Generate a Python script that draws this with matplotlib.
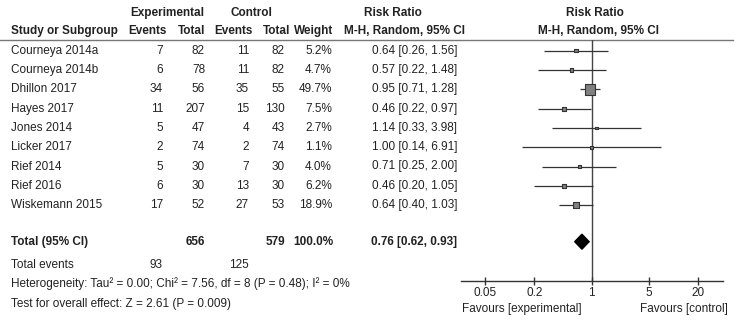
import numpy as np
import matplotlib
matplotlib.use("Agg")
import matplotlib.pyplot as plt
from matplotlib.patches import Polygon

plt.rcParams['font.family'] = ['Liberation Sans', 'DejaVu Sans']

# ---------------- data ----------------
studies = ["Courneya 2014a", "Courneya 2014b", "Dhillon 2017", "Hayes 2017", "Jones 2014",
           "Licker 2017", "Rief 2014", "Rief 2016", "Wiskemann 2015"]
exp_events = [7, 6, 34, 11, 5, 2, 5, 6, 17]
exp_total = [82, 78, 56, 207, 47, 74, 30, 30, 52]
ctrl_events = [11, 11, 35, 15, 4, 2, 7, 13, 27]
ctrl_total = [82, 82, 55, 130, 43, 74, 30, 30, 53]
weights = [5.2, 4.7, 49.7, 7.5, 2.7, 1.1, 4.0, 6.2, 18.9]
rr = [0.64, 0.57, 0.95, 0.46, 1.14, 1.00, 0.71, 0.46, 0.64]
ci_lo = [0.26, 0.22, 0.71, 0.22, 0.33, 0.14, 0.25, 0.20, 0.40]
ci_hi = [1.56, 1.48, 1.28, 0.97, 3.98, 6.91, 2.00, 1.05, 1.03]

total_exp = 656
total_ctrl = 579
total_weight = "100.0%"
pooled = [0.76, 0.62, 0.93]
total_events = [93, 125]
heterogeneity = "Heterogeneity: Tau\u00b2 = 0.00; Chi\u00b2 = 7.56, df = 8 (P = 0.48); I\u00b2 = 0%"
overall = "Test for overall effect: Z = 2.61 (P = 0.009)"
xticks = [0.05, 0.2, 1, 5, 20]
xtick_labels = ["0.05", "0.2", "1", "5", "20"]

# ---------------- layout ----------------
W, H = 740, 321
fig = plt.figure(figsize=(W / 100, H / 100), dpi=100)
ax = fig.add_axes([0, 0, 1, 1])
ax.set_xlim(0, W)
ax.set_ylim(H, 0)
ax.axis('off')

fs = 8.5
tc = '#222222'
row_y = [50.7 + 19.3 * i for i in range(len(studies))]

def t(x, y, s, ha='left', bold=False):
    ax.text(x, y, s, ha=ha, va='center', fontsize=fs, color=tc,
            fontweight='bold' if bold else 'normal')

# headers
t(167, 13, "Experimental", 'center', True)
t(251, 13, "Control", 'center', True)
t(392.5, 13, "Risk Ratio", 'center', True)
t(595, 13, "Risk Ratio", 'center', True)
t(11, 31, "Study or Subgroup", 'left', True)
t(167, 31, "Events", 'right', True)
t(205, 31, "Total", 'right', True)
t(253, 31, "Events", 'right', True)
t(290, 31, "Total", 'right', True)
t(333, 31, "Weight", 'right', True)
t(405, 31, "M-H, Random, 95% CI", 'center', True)
t(599, 31, "M-H, Random, 95% CI", 'center', True)
ax.plot([0, 733], [40, 40], color='#777777', lw=1.0)

for i, s in enumerate(studies):
    y = row_y[i]
    t(11, y, s)
    t(163, y, str(exp_events[i]), 'right')
    t(205, y, str(exp_total[i]), 'right')
    t(249, y, str(ctrl_events[i]), 'right')
    t(285, y, str(ctrl_total[i]), 'right')
    t(332, y, f"{weights[i]:.1f}%", 'right')
    t(457, y, f"{rr[i]:.2f} [{ci_lo[i]:.2f}, {ci_hi[i]:.2f}]", 'right')

ty = 241.7
t(11, ty, "Total (95% CI)", 'left', True)
t(205, ty, str(total_exp), 'right', True)
t(285, ty, str(total_ctrl), 'right', True)
t(333, ty, total_weight, 'right', True)
t(457, ty, f"{pooled[0]:.2f} [{pooled[1]:.2f}, {pooled[2]:.2f}]", 'right', True)

t(11, 265, "Total events")
t(163, 265, str(total_events[0]), 'right')
t(249, 265, str(total_events[1]), 'right')
t(11, 284, heterogeneity)
t(11, 304, overall)

t(582, 309, "Favours [experimental]", 'right')
t(640, 309, "Favours [control]", 'left')

# ---------------- forest axes ----------------
fx0, fx1 = 460.7, 722.7
fy0, fy1 = 40, 281
fax = fig.add_axes([fx0 / W, (H - fy1) / H, (fx1 - fx0) / W, (fy1 - fy0) / H])
fax.set_xscale('log')
fax.set_xlim(10 ** -1.598, 10 ** 1.598)
fax.set_ylim(fy1, fy0)
fax.patch.set_alpha(0)
for sp in ['top', 'left', 'right']:
    fax.spines[sp].set_visible(False)
fax.spines['bottom'].set_color('#333333')
fax.spines['bottom'].set_linewidth(1.0)
fax.set_yticks([])
fax.set_xticks(xticks)
fax.set_xticklabels(xtick_labels)
fax.xaxis.set_minor_locator(matplotlib.ticker.NullLocator())
fax.tick_params(axis='x', direction='inout', length=5.5, width=1.0, color='#333333',
                labelsize=fs, labelcolor=tc, pad=1.5)
fax.axvline(1, color='#444444', lw=1.0, zorder=1)

fax.hlines(row_y, ci_lo, ci_hi, color='#333333', lw=0.9, zorder=2)
sides_pt = [max(1.5 * np.sqrt(w), 2.8) * 0.72 for w in weights]
fax.scatter(rr, row_y, marker='s', s=[sp_ ** 2 for sp_ in sides_pt], facecolor='#808080',
            edgecolor='#333333', linewidths=0.8, zorder=3)

dy = 7.5
diamond = Polygon([(pooled[1], ty), (pooled[0], ty - dy), (pooled[2], ty), (pooled[0], ty + dy)],
                  closed=True, facecolor='black', edgecolor='black', zorder=3)
fax.add_patch(diamond)

fig.savefig("out.png", dpi=100)
